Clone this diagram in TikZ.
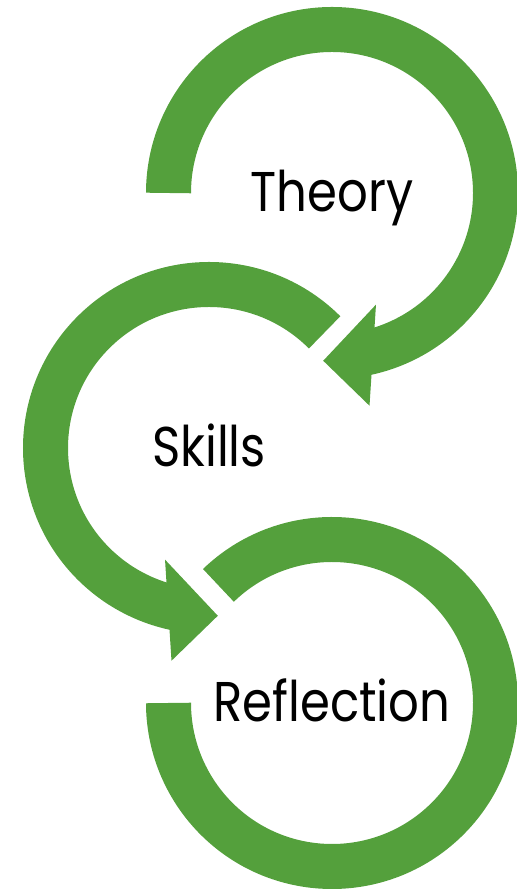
\documentclass[tikz,border=0pt]{standalone}
\usepackage{fontspec}
\setmainfont{Poppins}[FakeStretch=0.86]
\usetikzlibrary{calc}
\definecolor{leafgreen}{RGB}{84,160,60}
\newcommand{\MidR}{163.5}
\newcommand{\BandW}{45pt}

\begin{document}
\begin{tikzpicture}[x=1pt,y=1pt]
\tikzset{band/.style={draw=leafgreen, line width=\BandW},
  ringtext/.style={font=\fontsize{56}{60}\selectfont, anchor=base}}
\useasboundingbox (0,0) rectangle (516,890);

\coordinate (theory) at (332,697);
\coordinate (skills) at (209,442);
\coordinate (reflection) at (332,187);

% top ring, clockwise
\draw[band] (theory) ++(180:\MidR) arc[start angle=180, end angle=-78, radius=\MidR];
\fill[leafgreen] ($(theory)+(-68.5:120)$) -- ($(theory)+(-80:216)$) -- ($(theory)+(-93:168)$) -- cycle;
\node[ringtext] (theorytext) at ($(theory)+(0,-19)$) {Theory};

% middle ring, counter-clockwise
\draw[band] (skills) ++(45:\MidR) arc[start angle=45, end angle=258, radius=\MidR];
\fill[leafgreen] ($(skills)+(-111.5:120)$) -- ($(skills)+(-100:216)$) -- ($(skills)+(-87:168)$) -- cycle;
\node[ringtext] (skillstext) at ($(skills)+(0,-19)$) {Skills};

% bottom ring
\draw[band] (reflection) ++(134:\MidR) arc[start angle=134, end angle=-180, radius=\MidR];
\node[ringtext] (reflectiontext) at ($(reflection)+(0,-19)$) {Reflection};
%\draw (reflection) circle [radius=2];
\end{tikzpicture}
\end{document}
